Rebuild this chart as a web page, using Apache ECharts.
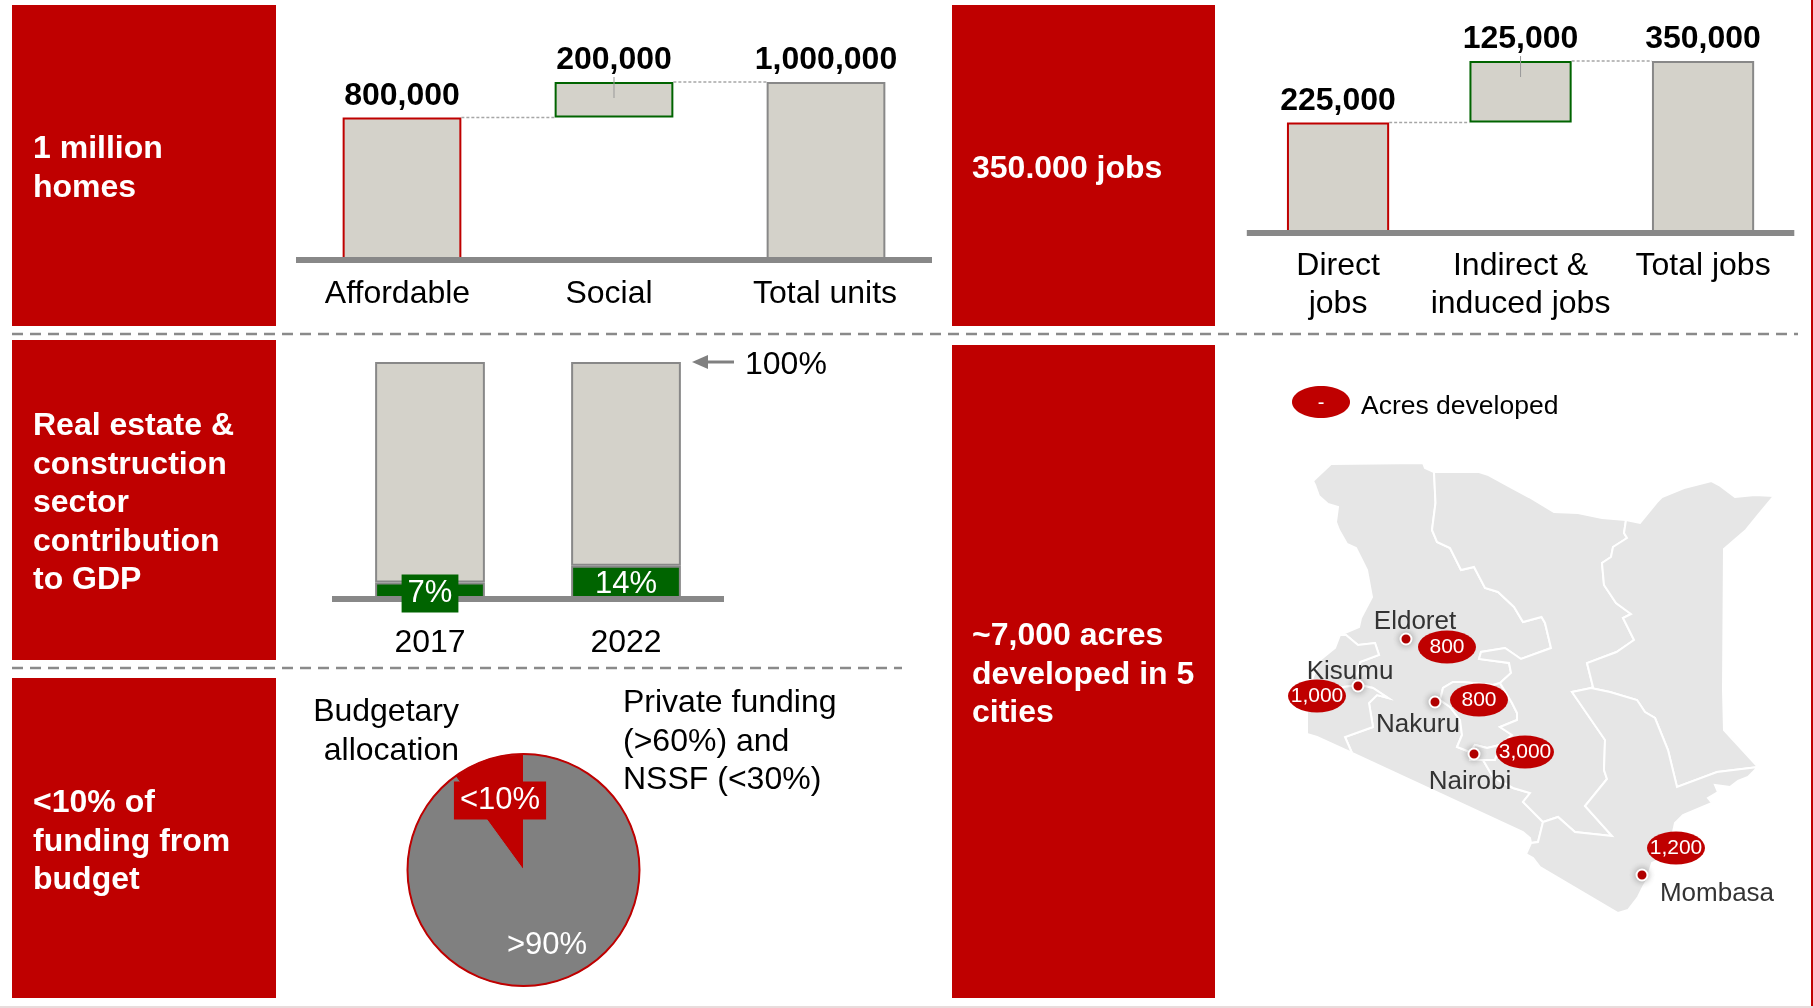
<!DOCTYPE html>
<html><head><meta charset="utf-8">
<style>html,body{margin:0;padding:0;background:#fff}#c{width:1813px;height:1008px}</style>
<script src="https://cdn.jsdelivr.net/npm/echarts@6/dist/echarts.min.js"></script>
</head><body><div id="c"></div>
<script>
const FONT='"Liberation Sans", Arial, sans-serif', RED='#bf0000', GREEN='#006400', GREY='#888888', FILL='#d4d2ca';

// Homes waterfall
const homeCategories=['Affordable','Social','Total units'];
const homeValues=[800000,200000,1000000];
const homeBase=[0,800000,0];
// Jobs waterfall
const jobCategories=['Direct\njobs','Indirect &\ninduced jobs','Total jobs'];
const jobValues=[225000,125000,350000];
const jobBase=[0,225000,0];
// GDP share
const gdpYears=['2017','2022'];
const gdpShare=[7,14];
const gdpRest=[93,86];
// Funding
const fundingNames=['Private funding and NSSF','Budgetary allocation'];
const fundingValues=[90,10];
const fundingLabels=['>90%','<10%'];
// Cities, in the map's own grid units
const cityNames=['Eldoret','Kisumu','Nakuru','Nairobi','Mombasa'];
const cityAcres=[800,1000,800,3000,1200];
const cityPoints=[[106,179],[58,226],[135,242],[174,294],[342,415]];
const cityBubbles=[[147,187],[17,236],[179,240],[225,292],[376,388]];
const cityNameAnchors=[[115,162],[50,212],[118,265],[170,322],[417,434]];

// Region outlines, in the map's own grid units (x right, y down)
const regionRift=[[31,4],[123,3],[125,8],[134,12],[135.5,43],[132,70],[137,82],[150,88],[161,110],[174,107],[185,128],[198,132],[214,147],[223,162],[241.5,157],[245,163],[251,188],[221,199],[205,188],[181,192],[179,199],[209,203],[211,213],[200,223],[193,225],[163,222],[153,222],[143,228],[140,240],[150,247],[160,260],[162,275],[157,287],[170,292],[170,300],[183,300],[193,317],[213,328],[230,333],[223,342],[243,362],[238,382],[231,383],[230,378],[223,372],[52,293],[45,277],[73,267],[69,243],[77,235],[88,238],[73,228],[60,225],[57,215],[60,202],[79,195],[75,183],[58,185],[46,175],[40,175],[59,167],[61,158],[72,137],[67,110],[62,100],[56,88],[47,84],[39,70],[36,62],[38,47],[28,44],[19,36],[15,25],[13,21]];
const regionWestern=[[40,175],[35,188],[20,200],[13,217],[10,230],[43,227],[60,225],[57,215],[60,202],[79,195],[75,183],[58,185],[46,175]];
const regionNyanza=[[10,230],[7,250],[7,274],[17,277],[52,293],[45,277],[73,267],[69,243],[77,235],[88,238],[73,228],[60,225],[43,227]];
const regionCentral=[[200,223],[212,243],[217,253],[217,260],[200,267],[212,275],[200,285],[187,288],[175,285],[170,292],[157,287],[162,275],[160,260],[150,247],[140,240],[143,228],[153,222],[163,222],[193,225]];
const regionNairobi=[[170,292],[175,285],[187,288],[200,285],[195,300],[183,300],[170,300]];
const regionEastern=[[134,12],[179,12],[188.5,15],[208.6,26],[229,37],[254,52],[278,53],[302,58],[326,60],[324,73],[327,78],[313,87],[311,97],[302,103],[304,125],[316,143],[331,154],[323,158],[334,180],[316.5,192],[287,203],[293,227],[291,228],[272,232],[305,280],[304,310],[307,319],[285,346],[312,376],[275,372],[258,357],[243,362],[223,342],[230,333],[213,328],[193,317],[183,300],[195,300],[200,285],[212,275],[200,267],[217,260],[217,253],[212,243],[200,223],[211,213],[209,203],[179,199],[181,192],[205,188],[221,199],[251,188],[245,163],[241.5,157],[223,162],[214,147],[198,132],[185,128],[174,107],[161,110],[150,88],[137,82],[132,70],[135.5,43]];
const regionNorthEastern=[[326,60],[340,63],[357,42],[362,37],[384,28],[411.5,21],[419,25],[435,37],[455,35],[474,36],[459,54],[446,70],[424,89],[423,230],[424,270],[458,307],[417,312],[377,327],[368,290],[355,258],[345,252],[337,240],[310,232],[291,228],[293,227],[287,203],[316.5,192],[334,180],[323,158],[331,154],[316,143],[304,125],[302,103],[311,97],[313,87],[327,78],[324,73]];
const regionCoast=[[458,307],[448,317],[438,321],[430,327],[415,325],[418,332],[408,338],[412,343],[400,348],[383,355],[375,363],[373,372],[363,398],[352,403],[347,420],[343,427],[338,437],[328,450],[318,453],[240,407],[233,398],[226,394],[231,383],[238,382],[243,362],[258,357],[275,372],[312,376],[285,346],[307,319],[304,310],[305,280],[272,232],[291,228],[310,232],[337,240],[345,252],[355,258],[368,290],[377,327],[417,312]];

const flip=p=>[p[0],-p[1]];
const regions={Rift:regionRift,Western:regionWestern,Nyanza:regionNyanza,Central:regionCentral,Nairobi:regionNairobi,Eastern:regionEastern,'North Eastern':regionNorthEastern,Coast:regionCoast};
const kenya={type:'FeatureCollection',features:Object.keys(regions).map(n=>{
  const ring=regions[n].map(flip); ring.push(ring[0]);
  return {type:'Feature',properties:{name:n},geometry:{type:'Polygon',coordinates:[ring]}};
})};
echarts.registerMap('kenya',kenya);

const BAR_FRAC=0.56, BAR_W=(BAR_FRAC*100)+'%';
const num=v=>v.toLocaleString('en-US');

function connectorSeries(xi,data){return {type:'custom',xAxisIndex:xi,yAxisIndex:xi,z:4,silent:true,clip:false,data,
  renderItem(p,api){
    const a=api.coord([api.value(0),api.value(1)]), b=api.coord([api.value(0)+1,api.value(1)]);
    const h=api.size([1,0])[0]*BAR_FRAC/2;
    return {type:'line',shape:{x1:a[0]+h,y1:a[1],x2:b[0]-h,y2:a[1]},style:{stroke:'#a6a6a6',lineWidth:1.5,lineDash:[3,2]}};
  }};}
function leaderSeries(xi,data){return {type:'custom',xAxisIndex:xi,yAxisIndex:xi,z:4,silent:true,clip:false,data,
  renderItem(p,api){
    const a=api.coord([api.value(0),api.value(1)]);
    return {type:'line',shape:{x1:a[0],y1:a[1]-5,x2:a[0],y2:a[1]+16},style:{stroke:'#999999',lineWidth:1}};
  }};}
function waterfall(xi,name,base,values){
  const colors=[RED,GREEN,GREY];
  return [
    {type:'bar',name:name+' base',xAxisIndex:xi,yAxisIndex:xi,stack:name,barWidth:BAR_W,silent:true,z:2,itemStyle:{color:'transparent'},data:base},
    {type:'bar',name,xAxisIndex:xi,yAxisIndex:xi,stack:name,barWidth:BAR_W,silent:true,z:2,
     data:values.map((v,i)=>({value:v,itemStyle:{color:FILL,borderColor:colors[i],borderWidth:2}})),
     label:{show:true,position:'top',distance:5.5,color:'#000',fontFamily:FONT,fontSize:32,fontWeight:'bold',formatter:p=>num(p.value)}}
  ];
}
function axisBase(i,data,margin,extra){return Object.assign({type:'category',gridIndex:i,data,z:3,
  axisTick:{show:false},axisLine:{show:true,lineStyle:{color:GREY,width:6,cap:'butt'}},
  axisLabel:{color:'#000',fontFamily:FONT,fontSize:32,margin,interval:0,lineHeight:38.5}},extra||{});}
function valAxis(i,max){return {type:'value',gridIndex:i,min:0,max,show:false};}

// chart 1 label nudges
const homeLabelStyle=['a','b','c'];

function panel(x,y,w,h){return {type:'rect',z:1,silent:true,shape:{x,y,width:w,height:h},style:{fill:RED}};}
function panelText(x,y,text){return {type:'text',z:2,silent:true,x,y,style:{text,fill:'#fff',font:'bold 32px '+FONT,lineHeight:38.6,align:'left',verticalAlign:'middle'}};}
function dash(x1,x2,y){return {type:'line',z:1,silent:true,shape:{x1,y1:y,x2,y2:y},style:{stroke:'#8a8a8a',lineWidth:2.5,lineDash:[11,7]}};}
function note(x,y,text,align,size,fill){return {type:'text',z:6,silent:true,x,y,style:{text,fill:fill||'#000',font:(size||32)+'px '+FONT,lineHeight:38.6,align:align||'left',verticalAlign:'middle'}};}

const labelPos={'>90%':{x:547,y:945},'<10%':{x:500,y:800.5}};

const option={
  animation:false,backgroundColor:'#fff',textStyle:{fontFamily:FONT},
  legend:{show:true,data:[{name:'Acres developed',icon:'path://M29 0C13 0 0 7.2 0 16C0 24.8 13 32 29 32C45 32 58 24.8 58 16C58 7.2 45 0 29 0Z'}],left:1292,top:386,padding:0,itemWidth:58,itemHeight:32,selectedMode:false,
    itemStyle:{opacity:1},formatter:()=>' ',
    textStyle:{fontFamily:FONT,fontSize:26.5,color:'#000'}},
  grid:[
    {left:296,top:82,width:636,height:178},
    {left:1246.8,top:61,width:547.5,height:172},
    {left:332,top:362,width:392,height:237}
  ],
  xAxis:[
    axisBase(0,homeCategories,18,{axisLabel:{color:'#000',fontFamily:FONT,fontSize:32,margin:18,interval:0,
      formatter:(v,i)=>'{'+homeLabelStyle[i]+'|'+v+'}',
      rich:{a:{padding:[0,9,0,0],fontSize:32,fontFamily:FONT,color:'#000'},b:{padding:[0,10,0,0],fontSize:32,fontFamily:FONT,color:'#000'},c:{padding:[0,2,0,0],fontSize:32,fontFamily:FONT,color:'#000'}}}}),
    axisBase(1,jobCategories,13.5),
    axisBase(2,gdpYears,25)
  ],
  yAxis:[valAxis(0,1000000),valAxis(1,350000),valAxis(2,100)],
  geo:{map:'kenya',silent:true,roam:false,left:1307,top:463,width:467,height:450,
    itemStyle:{areaColor:'#e6e6e6',borderColor:'#fff',borderWidth:2},label:{show:false},emphasis:{disabled:true},select:{disabled:true}},
  series:[
    ...waterfall(0,'Homes',homeBase,homeValues),
    connectorSeries(0,[[0,800000],[1,1000000]]),
    leaderSeries(0,[[1,1000000]]),
    ...waterfall(1,'Jobs',jobBase,jobValues),
    connectorSeries(1,[[0,225000],[1,350000]]),
    leaderSeries(1,[[1,350000]]),
    {type:'bar',name:'Sector share',xAxisIndex:2,yAxisIndex:2,stack:'gdp',barWidth:BAR_W,silent:true,z:2,
     itemStyle:{color:GREEN,borderColor:GREY,borderWidth:2},data:gdpShare},
    {type:'bar',name:'Rest of GDP',xAxisIndex:2,yAxisIndex:2,stack:'gdp',barWidth:BAR_W,silent:true,z:2,
     itemStyle:{color:FILL,borderColor:GREY,borderWidth:2},data:gdpRest},
    {type:'scatter',name:'Share labels',xAxisIndex:2,yAxisIndex:2,symbolSize:0,silent:true,z:6,itemStyle:{opacity:1},
     data:gdpShare.map((v,i)=>({value:[i,v/2],share:v,label:i===0?{backgroundColor:GREEN,padding:[7,6,0,6],offset:[0,2.7]}:{offset:[0,2.5]}})),
     label:{show:true,position:'inside',color:'#fff',fontFamily:FONT,fontSize:31,opacity:1,formatter:p=>p.data.share+'%'}},
    {type:'pie',name:'Funding',center:[523.5,870],radius:[0,116],startAngle:90,clockwise:true,silent:true,z:2,
     itemStyle:{borderColor:'#808080',borderWidth:1},
     data:fundingNames.map((n,i)=>({name:n,value:fundingValues[i],itemStyle:{color:i===0?'#808080':RED},
       label:{formatter:fundingLabels[i],backgroundColor:i===1?RED:'transparent',padding:i===1?[7,6,0,6]:0}})),
     label:{show:true,position:'inside',color:'#fff',fontFamily:FONT,fontSize:31},
     labelLine:{show:false},
     labelLayout:p=>{const q=labelPos[fundingLabels[p.dataIndex]];return {x:q.x,y:q.y,align:'center',verticalAlign:'middle',hideOverlap:false};}},
    {type:'pie',name:'Funding ring',center:[523.5,870],radius:[115,117],silent:true,z:3,label:{show:false},labelLine:{show:false},
     itemStyle:{color:RED},data:[{name:'ring',value:1}]},
    {type:'scatter',name:'Acres developed',coordinateSystem:'geo',symbol:'circle',symbolSize:[58,33],silent:true,z:5,
     itemStyle:{color:RED,opacity:1},
     data:cityBubbles.map((p,i)=>({name:cityNames[i],value:[p[0],-p[1],cityAcres[i]]})),
     label:{show:true,position:'inside',color:'#fff',fontFamily:FONT,fontSize:21,opacity:1,formatter:p=>num(p.value[2])}},
    {type:'scatter',name:'Cities',coordinateSystem:'geo',symbol:'circle',symbolSize:11,silent:true,z:5,
     itemStyle:{color:RED,opacity:1,borderColor:'#fff',borderWidth:2,shadowBlur:7,shadowColor:'rgba(0,0,0,0.3)'},
     data:cityPoints.map((p,i)=>({name:cityNames[i],value:[p[0],-p[1]]}))},
    {type:'scatter',name:'City names',coordinateSystem:'geo',symbolSize:0,silent:true,z:6,itemStyle:{opacity:1},
     data:cityNameAnchors.map((p,i)=>({name:cityNames[i],value:[p[0],-p[1]]})),
     label:{show:true,position:'inside',color:'#333',fontFamily:FONT,fontSize:26,opacity:1,formatter:p=>p.name}}
  ],
  graphic:[
    panel(12,5,264,321),panel(12,340,264,320),panel(12,678,264,320),panel(952,5,263,321),panel(952,345,263,653),
    panelText(33,168.5,'1 million\nhomes'),
    panelText(33,503.3,'Real estate &\nconstruction\nsector\ncontribution\nto GDP'),
    panelText(33,842,'<10% of\nfunding from\nbudget'),
    panelText(972,169,'350.000 jobs'),
    panelText(972,675,'~7,000 acres\ndeveloped in 5\ncities'),
    dash(12,1798,334),dash(12,902,668),
    {type:'line',z:5,silent:true,shape:{x1:704,y1:362,x2:734,y2:362},style:{stroke:'#808080',lineWidth:3}},
    {type:'polygon',z:5,silent:true,shape:{points:[[692,362],[708,355],[708,369]]},style:{fill:'#808080'}},
    note(745,365,'100%'),
    note(459,731.5,'Budgetary\nallocation','right'),
    note(623,742,'Private funding\n(>60%) and\nNSSF (<30%)'),
    note(1321,403,'-','center',20,'#fff'),
    note(1361,407,'Acres developed','left',26.5),
    {type:'rect',z:1,silent:true,shape:{x:1811,y:0,width:2,height:1006},style:{fill:RED}},
    {type:'rect',z:1,silent:true,shape:{x:0,y:1006,width:1813,height:2},style:{fill:'#e8dcdc'}}
  ]
};
echarts.init(document.getElementById('c'),null,{renderer:'canvas'}).setOption(option);
</script></body></html>
